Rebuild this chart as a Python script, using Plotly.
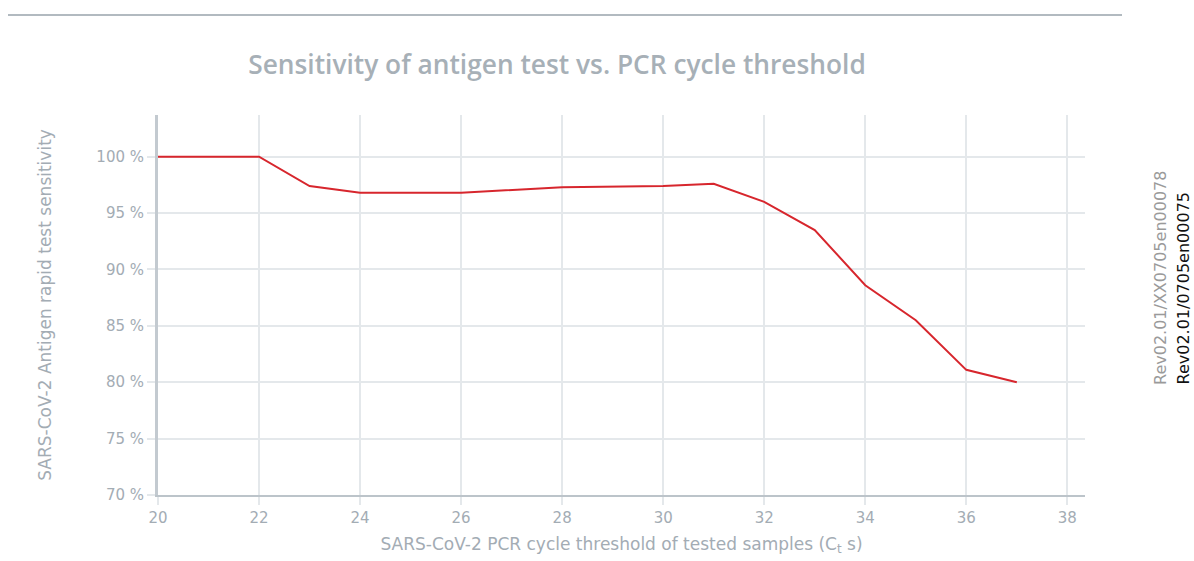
import plotly.graph_objects as go

ct_values = [20, 22, 23, 24, 26, 28, 30, 31, 32, 33, 34, 35, 36, 37]
sensitivity = [100, 100, 97.4, 96.8, 96.8, 97.3, 97.4, 97.6, 96.0, 93.5, 88.6, 85.5, 81.1, 80.0]
x_ticks = [20, 22, 24, 26, 28, 30, 32, 34, 36, 38]
y_ticks = [70, 75, 80, 85, 90, 95, 100]
y_tick_labels = [f"{v} %" for v in y_ticks]

title_text = "Sensitivity of antigen test vs. PCR cycle threshold"
x_title = "SARS-CoV-2 PCR cycle threshold of tested samples (C<sub>t</sub> s)"
y_title = "SARS-CoV-2 Antigen rapid test sensitivity"
rev_gray = "Rev02.01/XX0705en00078"
rev_black = "Rev02.01/0705en00075"

FONT = "DejaVu Sans"
GRAY = "#a3acb4"
W, H = 1194, 561
L, T = 158, 115
R, B = W - 1085, H - 495
PW, PH = W - L - R, H - T - B

def px_x(p):
    return (p - L) / PW

def px_y(p):
    return (H - B - p) / PH

fig = go.Figure()
fig.add_trace(go.Scatter(x=ct_values, y=sensitivity, mode="lines",
                         line=dict(color="#d7262d", width=2), showlegend=False))

fig.update_layout(
    width=W, height=H,
    margin=dict(l=L, r=R, t=T, b=B, autoexpand=False),
    paper_bgcolor="white", plot_bgcolor="white",
    font=dict(family=FONT, color=GRAY, size=15),
    title=dict(text=title_text, x=557 / W, xanchor="center", y=1 - 65 / H,
               yanchor="middle",
               font=dict(family="Open Sans", size=26.3, color="#a7b0b7", weight=600)),
)
fig.update_xaxes(range=[20, 38.35], tickvals=x_ticks, showgrid=True, gridcolor="#e4e8eb", gridwidth=1.5,
                 showline=True, linecolor="#bcc4ca", linewidth=2, ticks="outside", ticklen=8,
                 tickcolor="#e4e8eb", tickwidth=1.5, zeroline=False,
                 tickfont=dict(size=15, color=GRAY),
                 title=dict(text=x_title, font=dict(size=17, color=GRAY), standoff=12))
fig.update_yaxes(range=[70, 103.7], tickvals=y_ticks, ticktext=y_tick_labels, showgrid=True,
                 gridcolor="#e4e8eb", gridwidth=1.5,
                 showline=True, linecolor="#c3cad0", linewidth=3, ticks="outside", ticklen=8,
                 tickcolor="#e4e8eb", tickwidth=1.5, zeroline=False,
                 tickfont=dict(size=15, color=GRAY),
                 title=dict(text=y_title, font=dict(size=17, color=GRAY), standoff=41))

fig.add_shape(type="line", xref="paper", yref="paper", x0=px_x(8), x1=px_x(1122),
              y0=px_y(15), y1=px_y(15), line=dict(color="#b2bac0", width=2))
fig.add_annotation(text=rev_gray, xref="paper", yref="paper", x=px_x(1160), y=px_y(387),
                   xanchor="center", yanchor="bottom", textangle=-90, showarrow=False,
                   font=dict(family=FONT, size=16, color="#9a9a9a"))
fig.add_annotation(text=rev_black, xref="paper", yref="paper", x=px_x(1183), y=px_y(387),
                   xanchor="center", yanchor="bottom", textangle=-90, showarrow=False,
                   font=dict(family=FONT, size=16, color="#111111"))

fig.write_html(
    "out.html",
    config={"displayModeBar": False},
    post_script="document.body.style.margin='0';document.body.style.overflow='hidden';"
                "document.documentElement.style.overflow='hidden';",
)
